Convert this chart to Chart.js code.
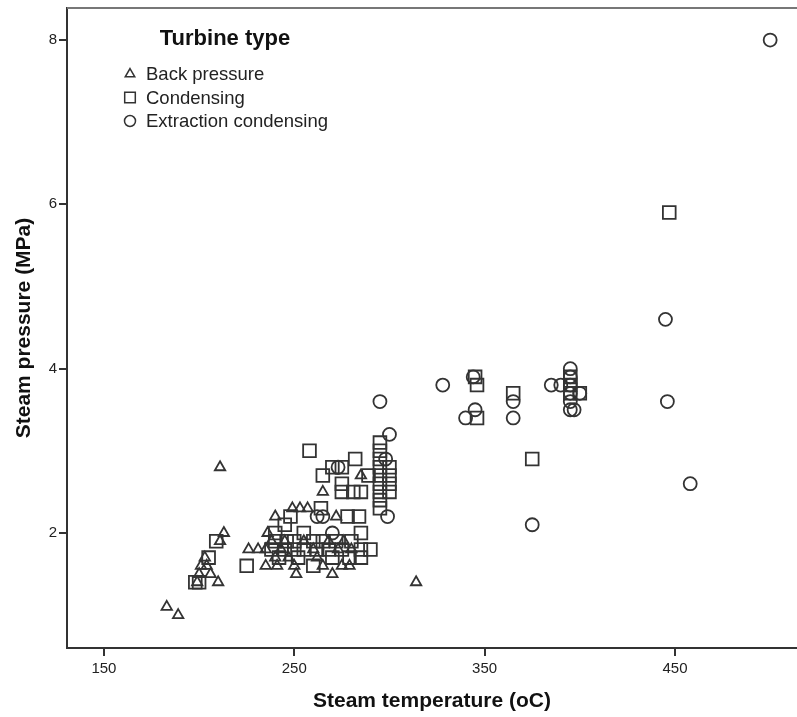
<!DOCTYPE html>
<html>
<head>
<meta charset="utf-8">
<script src="https://cdn.jsdelivr.net/npm/chart.js@4.4.1/dist/chart.umd.min.js"></script>
<style>
  html, body { margin: 0; padding: 0; background: #fff; overflow: hidden; }
  canvas { display: block; }
</style>
</head>
<body>
<canvas id="scatterChart" width="797" height="717"></canvas>
<script>
// turbine types and their readings (steam temperature oC, steam pressure MPa)
var typeLabels = ['Back pressure', 'Condensing', 'Extraction condensing'];

var backTemp = [183, 189, 199, 200, 201, 203, 204, 206, 210, 211, 213, 211,
  226, 231, 235, 235, 236, 238, 240, 240, 241, 243, 245, 247, 249, 250, 251,
  253, 255, 257, 260, 262, 265, 265, 268, 270, 272, 273, 275, 276, 279, 280,
  285, 314];
var backPress = [1.1, 1.0, 1.4, 1.5, 1.6, 1.7, 1.6, 1.5, 1.4, 1.9, 2.0, 2.8,
  1.8, 1.8, 1.6, 1.8, 2.0, 1.9, 2.2, 1.7, 1.6, 1.8, 1.9, 1.7, 2.3, 1.6, 1.5,
  2.3, 1.9, 2.3, 1.8, 1.7, 2.5, 1.6, 1.9, 1.5, 2.2, 1.8, 1.6, 1.9, 1.6, 1.8,
  2.7, 1.4];

var condTemp = [198, 200, 205, 209, 225, 238, 240, 240, 242, 245, 245, 246,
  248, 250, 250, 252, 255, 255, 258, 260, 260, 262, 264, 265, 265, 268, 270,
  270, 272, 275, 275, 275, 275, 278, 279, 280, 281, 282, 284, 285, 285, 285,
  285, 289, 290, 295, 295, 295, 295, 295, 295, 295, 295, 295, 300, 300, 300,
  300, 345, 346, 346, 365, 375, 395, 395, 395, 400, 447];
var condPress = [1.4, 1.4, 1.7, 1.9, 1.6, 1.8, 1.9, 2.0, 1.7, 1.8, 2.1, 1.9,
  2.2, 1.8, 1.9, 1.7, 2.0, 1.8, 3.0, 1.6, 1.9, 1.8, 2.3, 2.7, 1.9, 1.8, 2.8,
  1.7, 1.9, 2.8, 2.6, 2.5, 1.8, 2.2, 1.7, 1.9, 2.5, 2.9, 2.2, 2.0, 1.7, 1.8,
  2.5, 2.7, 1.8, 3.1, 3.0, 2.9, 2.8, 2.7, 2.6, 2.5, 2.4, 2.3, 2.8, 2.7, 2.6,
  2.5, 3.9, 3.8, 3.4, 3.7, 2.9, 3.9, 3.8, 3.7, 3.7, 5.9];

var extrTemp = [262, 265, 270, 273, 295, 298, 300, 299, 328, 340, 344, 345,
  365, 365, 375, 385, 390, 395, 395, 395, 395, 395, 395, 397, 400, 445, 446,
  458, 500];
var extrPress = [2.2, 2.2, 2.0, 2.8, 3.6, 2.9, 3.2, 2.2, 3.8, 3.4, 3.9, 3.5,
  3.6, 3.4, 2.1, 3.8, 3.8, 4.0, 3.9, 3.8, 3.7, 3.6, 3.5, 3.5, 3.7, 4.6, 3.6,
  2.6, 8.0];

var xTicks = [150, 250, 350, 450];
var yTicks = [2, 4, 6, 8];

var fontFamily = '"Liberation Sans", Arial, sans-serif';
var markColor = '#333';

function toPoints(xs, ys) {
  return xs.map(function (x, i) {
    return { x: x, y: ys[i] };
  });
}

// legend drawn inside the plot, top left, like the SPSS output
var legendRadius = [5.5, 7.5, 5.5];
var typeLegend = {
  id: 'typeLegend',
  afterDatasetsDraw(chart) {
    var ctx = chart.ctx;
    var area = chart.chartArea;
    var x0 = area.left + 63;
    ctx.save();
    ctx.fillStyle = '#111';
    ctx.textBaseline = 'middle';
    ctx.font = 'bold 22px ' + fontFamily;
    ctx.textAlign = 'center';
    ctx.fillText('Turbine type', area.left + 158, area.top + 31);
    ctx.textAlign = 'left';
    ctx.font = '18.5px ' + fontFamily;
    chart.data.datasets.forEach(function (ds, i) {
      var y = area.top + 66 + i * 23.5;
      ctx.fillStyle = 'rgba(0,0,0,0)';
      ctx.strokeStyle = markColor;
      ctx.lineWidth = 1.5;
      Chart.helpers.drawPoint(ctx, {
        pointStyle: ds.pointStyle,
        radius: legendRadius[i],
        borderWidth: 1.5,
        rotation: 0
      }, x0, y);
      ctx.fillStyle = '#222';
      ctx.fillText(ds.label, x0 + 16, y + 1);
    });
    ctx.restore();
  }
};

// grey frame line along the top of the plot
var topLine = {
  id: 'topLine',
  beforeDatasetsDraw(chart) {
    var ctx = chart.ctx;
    var area = chart.chartArea;
    ctx.save();
    ctx.strokeStyle = '#777';
    ctx.lineWidth = 2;
    ctx.beginPath();
    ctx.moveTo(area.left, area.top);
    ctx.lineTo(chart.width, area.top);
    ctx.stroke();
    ctx.restore();
  }
};

var ctx = document.getElementById('scatterChart').getContext('2d');
var scatterChart = new Chart(ctx, {
  type: 'scatter',
  data: {
    datasets: [
      {
        label: typeLabels[0],
        data: toPoints(backTemp, backPress),
        pointStyle: 'triangle',
        pointRadius: 6,
        borderWidth: 1.8,
        borderColor: markColor,
        backgroundColor: 'rgba(0,0,0,0)'
      },
      {
        label: typeLabels[1],
        data: toPoints(condTemp, condPress),
        pointStyle: 'rect',
        pointRadius: 9,
        borderWidth: 1.8,
        borderColor: markColor,
        backgroundColor: 'rgba(0,0,0,0)'
      },
      {
        label: typeLabels[2],
        data: toPoints(extrTemp, extrPress),
        pointStyle: 'circle',
        pointRadius: 6.5,
        borderWidth: 1.8,
        borderColor: markColor,
        backgroundColor: 'rgba(0,0,0,0)'
      }
    ]
  },
  options: {
    responsive: false,
    animation: false,
    layout: { autoPadding: false, padding: { top: 8, right: 0, bottom: 0, left: 0 } },
    plugins: {
      legend: { display: false },
      tooltip: { enabled: false }
    },
    scales: {
      x: {
        type: 'linear',
        min: 130.6,
        max: 514.1,
        afterBuildTicks: function (scale) {
          scale.ticks = xTicks.map(function (v) { return { value: v }; });
        },
        afterFit: function (scale) {
          scale.height = 69;
          scale.paddingLeft = 0;
          scale.paddingRight = 0;
        },
        border: { color: '#333', width: 2 },
        grid: { drawOnChartArea: false, drawTicks: true, tickLength: 8, color: '#333', lineWidth: 2 },
        ticks: {
          padding: 4,
          color: '#222',
          font: { family: fontFamily, size: 15 }
        },
        title: {
          display: true,
          text: 'Steam temperature (oC)',
          color: '#111',
          font: { family: fontFamily, size: 21, weight: 'bold' },
          padding: { top: 0, bottom: 3 }
        }
      },
      y: {
        type: 'linear',
        min: 0.6,
        max: 8.39,
        afterBuildTicks: function (scale) {
          scale.ticks = yTicks.map(function (v) { return { value: v }; });
        },
        afterFit: function (scale) {
          scale.width = 67;
          scale.paddingTop = 0;
          scale.paddingBottom = 0;
        },
        border: { color: '#333', width: 2 },
        grid: { drawOnChartArea: false, drawTicks: true, tickLength: 8, color: '#333', lineWidth: 2 },
        ticks: {
          padding: 2,
          color: '#222',
          font: { family: fontFamily, size: 15 }
        },
        title: {
          display: true,
          text: 'Steam pressure (MPa)',
          color: '#111',
          font: { family: fontFamily, size: 21, weight: 'bold' },
          padding: { top: 12, bottom: 0 }
        }
      }
    }
  },
  plugins: [topLine, typeLegend]
});
</script>
</body>
</html>
